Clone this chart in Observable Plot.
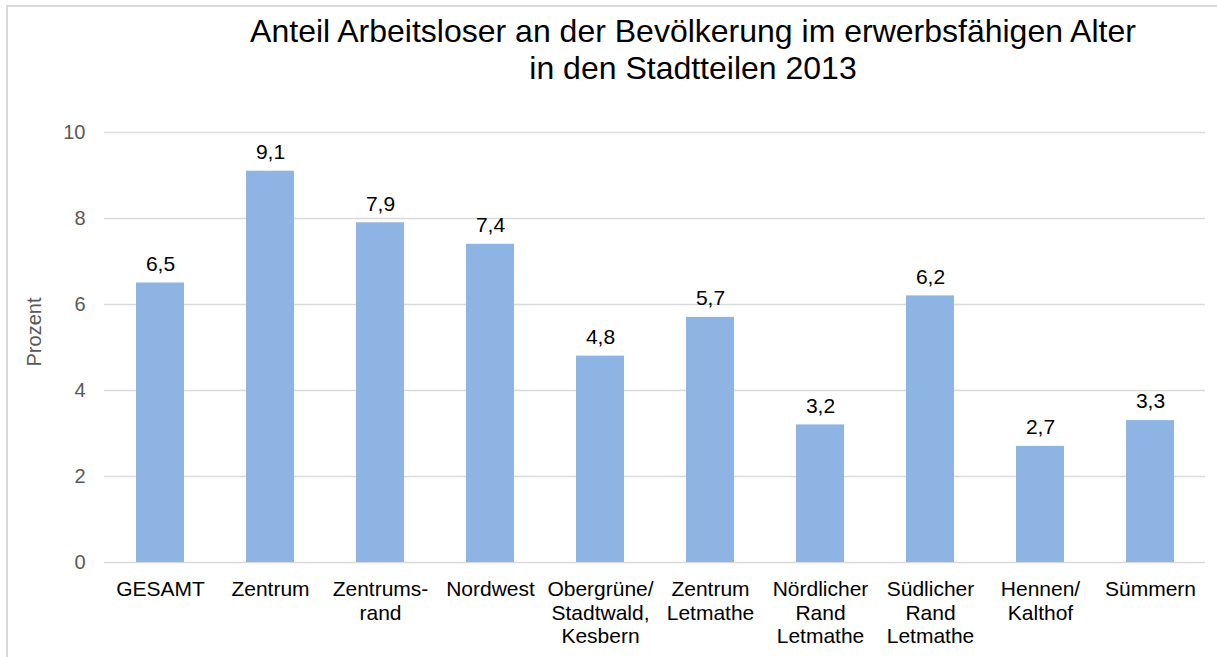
<!DOCTYPE html>
<html>
<head>
<meta charset="utf-8">
<script src="https://cdn.jsdelivr.net/npm/d3@7"></script>
<script src="https://cdn.jsdelivr.net/npm/@observablehq/plot@0.6"></script>
<style>
  html, body { margin: 0; padding: 0; background: #fff; }
  #wrap { position: relative; width: 1217px; height: 657px; overflow: hidden; font-family: "Liberation Sans", Arial, sans-serif; }
  #frame { position: absolute; left: 6px; top: 5px; width: 1300px; height: 800px; border-left: 2px solid #d9d9d9; border-top: 2px solid #d9d9d9; }
  #title { position: absolute; left: 193px; top: 13px; width: 1000px; text-align: center; font-size: 32px; line-height: 37px; color: #000; }
  #ylabel { position: absolute; left: 34px; top: 332px; transform: translate(-50%, -50%) rotate(-90deg); font-size: 20px; color: #595959; white-space: nowrap; }
  #chart { position: absolute; left: 0; top: 0; }
</style>
</head>
<body>
<div id="wrap">
  <div id="frame"></div>
  <div id="chart"></div>
  <div id="title">Anteil Arbeitsloser an der Bevölkerung im erwerbsfähigen Alter<br>in den Stadtteilen 2013</div>
  <div id="ylabel">Prozent</div>
</div>
<script>
const categories = ["GESAMT", "Zentrum", "Zentrums-rand", "Nordwest", "Obergrüne/Stadtwald, Kesbern", "Zentrum Letmathe", "Nördlicher Rand Letmathe", "Südlicher Rand Letmathe", "Hennen/Kalthof", "Sümmern"];
const categoryLabels = ["GESAMT", "Zentrum", "Zentrums-\nrand", "Nordwest", "Obergrüne/\nStadtwald,\nKesbern", "Zentrum\nLetmathe", "Nördlicher\nRand\nLetmathe", "Südlicher\nRand\nLetmathe", "Hennen/\nKalthof", "Sümmern"];
const values = [6.5, 9.1, 7.9, 7.4, 4.8, 5.7, 3.2, 6.2, 2.7, 3.3];
const yTicks = [0, 2, 4, 6, 8, 10];

const data = categories.map((c, i) => ({category: c, value: values[i], label: values[i].toFixed(1).replace(".", ",")}));
const labelOf = new Map(categories.map((c, i) => [c, categoryLabels[i]]));

const chart = Plot.plot({
  width: 1217,
  height: 657,
  marginLeft: 104,
  marginRight: 12,
  marginTop: 132,
  marginBottom: 95,
  style: {background: "transparent", fontFamily: "'Liberation Sans', Arial, sans-serif"},
  x: {domain: categories, paddingInner: 0.564, paddingOuter: 0.282, label: null},
  y: {domain: [0, 10], label: null},
  marks: [
    Plot.gridY(yTicks, {stroke: "#d9d9d9", strokeOpacity: 1, strokeWidth: 1.5}),
    Plot.axisY(yTicks, {tickSize: 0, tickPadding: 19, fontSize: 20, fill: "#595959", label: null}),
    Plot.axisX({tickSize: 0, tickPadding: 17, fontSize: 21, fill: "#000", lineHeight: 1.12, tickFormat: d => labelOf.get(d), label: null}),
    Plot.barY(data, {x: "category", y: "value", fill: "#8eb4e3"}),
    Plot.text(data, {x: "category", y: "value", text: "label", dy: -19, fontSize: 21, fill: "#000"})
  ]
});
document.getElementById("chart").appendChild(chart);
</script>
</body>
</html>
